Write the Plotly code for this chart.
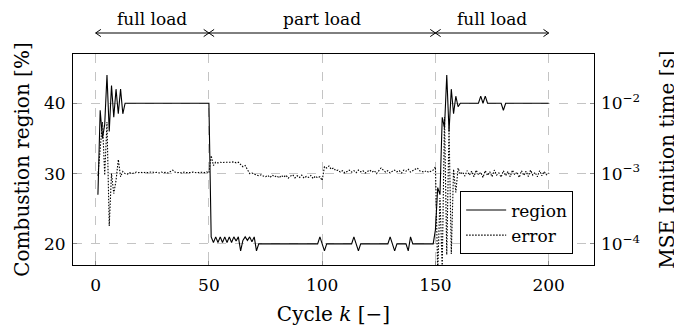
import plotly.graph_objects as go

# ---------------- data ----------------
cycles = list(range(1, 201))

# combustion region [%]
region = [
    27, 39, 35, 37, 44, 36, 42.5, 38, 42, 38.5,
    42, 38.5, 40, 40, 40, 40, 40, 40, 40, 40,
    40, 40, 40, 40, 40, 40, 40, 40, 40, 40,
    40, 40, 40, 40, 40, 40, 40, 40, 40, 40,
    40, 40, 40, 40, 40, 40, 40, 40, 40, 40,
    21, 20.2, 21, 20.2, 21, 20.2, 21, 20.2, 21, 20.2,
    21, 20.4, 21, 19, 20.5, 21, 20.5, 21, 20.3, 21,
    19, 20, 20, 20, 20, 20, 20, 20, 20, 20,
    20, 20, 20, 20, 20, 20, 20, 20, 20, 20,
    20, 20, 20, 20, 20, 20, 20, 20, 21, 20,
    19, 20, 20, 20, 20, 20, 20, 20, 20, 20,
    20, 20, 20, 21, 20, 19, 20, 20, 20, 20,
    20, 20, 20, 20, 20, 20, 20, 20, 20, 21,
    20, 19, 20, 20, 20, 20, 20, 19, 21, 20,
    20, 20, 20, 20, 20, 20, 20, 20, 20, 22,
    28, 27, 38, 36.5, 44, 36, 42, 38.5, 41, 39.5,
    40, 40, 40, 40, 40, 40, 40, 40, 40, 41,
    40, 41, 40, 40, 40, 40, 40, 40, 40, 39,
    40, 40, 40, 40, 40, 40, 40, 40, 40, 40,
    40, 40, 40, 40, 40, 40, 40, 40, 40, 40,
]

# MSE of ignition time, in milliseconds
mse_ms = [
    0.93, 2.09, 5.4, 0.95, 5.4, 0.18, 1.0, 0.52, 0.8, 1.58,
    0.9, 1.07, 1.0, 0.98, 1.03, 1.0, 1.02, 1.05, 1.03, 1.04,
    1.02, 1.05, 1.03, 1.04, 1.06, 1.03, 1.04, 1.02, 1.05, 1.03,
    1.04, 1.02, 1.08, 1.12, 1.05, 1.03, 1.04, 1.02, 1.05, 1.03,
    1.04, 1.03, 1.05, 1.04, 1.02, 1.05, 1.04, 1.03, 1.06, 1.02,
    1.8, 1.3, 1.45, 1.42, 1.45, 1.43, 1.45, 1.44, 1.46, 1.45,
    1.47, 1.42, 1.45, 1.35, 1.25, 1.3, 1.12, 1.0, 1.02, 0.97,
    0.95, 0.93, 0.96, 0.92, 0.9, 0.94, 0.88, 0.95, 0.9, 0.93,
    0.87, 0.94, 0.89, 0.95, 0.86, 0.92, 0.96, 0.87, 0.93, 0.88,
    0.95, 0.86, 0.91, 0.88, 0.94, 0.85, 0.92, 0.87, 0.9, 0.8,
    1.25, 1.2, 1.28, 1.15, 1.2, 1.1, 1.12, 1.05, 1.1, 1.02,
    1.08, 1.12, 1.05, 1.1, 1.03, 1.12, 1.06, 1.1, 1.02, 1.08,
    1.12, 1.05, 1.1, 1.0, 1.08, 1.2, 1.12, 1.05, 1.1, 1.02,
    1.08, 1.12, 1.06, 1.1, 1.02, 1.12, 1.08, 1.15, 1.05, 1.1,
    1.15, 1.2, 1.1, 1.08, 1.05, 1.1, 1.04, 1.08, 1.12, 1.25,
    0.04, 0.45, 0.045, 6.3, 0.07, 4.5, 0.072, 1.15, 0.54, 1.2,
    0.98, 1.05, 0.92, 1.1, 0.95, 1.08, 0.9, 1.12, 0.96, 1.04,
    0.88, 1.1, 0.94, 1.06, 0.9, 1.12, 0.95, 1.02, 0.89, 1.1,
    0.93, 1.07, 0.9, 1.12, 0.96, 1.05, 0.88, 1.1, 0.94, 1.08,
    0.91, 1.12, 0.95, 1.04, 0.9, 1.1, 0.93, 1.07, 0.96, 1.02,
]

x_ticks = [0, 50, 100, 150, 200]
y_ticks = [20, 30, 40]
y2_ticks = [1e-4, 1e-3, 1e-2]
y2_labels = ["10<sup>\u22124</sup>", "10<sup>\u22123</sup>", "10<sup>\u22122</sup>"]

phases = ["full load", "part load", "full load"]
phase_bounds = [0, 50, 150, 200]

assert len(region) == len(cycles) == len(mse_ms)

mse_s = [v / 1000.0 for v in mse_ms]

# ---------------- figure ----------------
FONT = "DejaVu Serif"
FS = 17

fig = go.Figure()
fig.add_trace(go.Scatter(
    x=cycles, y=region, mode="lines", name="region",
    line=dict(color="black", width=1.1), yaxis="y",
))
fig.add_trace(go.Scatter(
    x=cycles, y=mse_s, mode="lines", name="error",
    line=dict(color="black", width=1.1, dash="1.5px,1.5px"), yaxis="y2",
))

grid = dict(showgrid=True, gridcolor="#c4c4c4", gridwidth=1, griddash="dash")

# page body adds an 8px offset; figure is shrunk so the plot lands where the reference has it
fig.update_layout(
    width=674, height=321,
    margin=dict(l=65, r=88, t=46, b=64),
    paper_bgcolor="white", plot_bgcolor="white",
    font=dict(family=FONT, size=FS, color="black"),
    showlegend=True,
    legend=dict(
        x=0.96, y=0.05, xanchor="right", yanchor="bottom",
        bordercolor="black", borderwidth=1, bgcolor="white",
        font=dict(family=FONT, size=FS), tracegroupgap=0,
        itemwidth=40,
    ),
    xaxis=dict(
        range=[-10, 220], tickvals=x_ticks, zeroline=False, automargin=False,
        showline=True, linecolor="black", linewidth=1, mirror=True,
        ticks="inside", ticklen=4, tickcolor="#888888", ticklabelstandoff=5,
        title=dict(text="Cycle <i>k</i> [\u2212]", standoff=12),
        **grid,
    ),
    yaxis=dict(
        range=[17, 47], tickvals=y_ticks, zeroline=False, automargin=False,
        showline=True, linecolor="black", linewidth=1, mirror=True,
        ticks="inside", ticklen=4, tickcolor="#888888", ticklabelstandoff=3,
        title=dict(text="Combustion region [%]", standoff=8),
        **grid,
    ),
    yaxis2=dict(
        type="log", range=[-4.3, -1.3], overlaying="y", side="right",
        tickvals=y2_ticks, ticktext=y2_labels, showgrid=False, zeroline=False,
        automargin=False,
        ticks="inside", ticklen=4, tickcolor="#888888", ticklabelstandoff=6,
        title=dict(text="MSE Ignition time [s]", standoff=20),
    ),
)

# phase arrows above the plot
ya = 1.0995
dx = 2.3
dy = 0.017
shapes = [dict(type="line", xref="x", yref="paper", x0=phase_bounds[0], x1=phase_bounds[-1],
               y0=ya, y1=ya, line=dict(color="black", width=1))]
for i in range(len(phases)):
    a, b = phase_bounds[i], phase_bounds[i + 1]
    shapes.append(dict(type="path", xref="x", yref="paper",
                       path=f"M {a+dx},{ya+dy} L {a},{ya} L {a+dx},{ya-dy}",
                       line=dict(color="black", width=1)))
    shapes.append(dict(type="path", xref="x", yref="paper",
                       path=f"M {b-dx},{ya+dy} L {b},{ya} L {b-dx},{ya-dy}",
                       line=dict(color="black", width=1)))
    fig.add_annotation(x=(a + b) / 2, y=1.165, xref="x", yref="paper",
                       text=phases[i], showarrow=False, yanchor="middle",
                       font=dict(family=FONT, size=FS))
fig.update_layout(shapes=shapes)

fig.write_html("out.html")
